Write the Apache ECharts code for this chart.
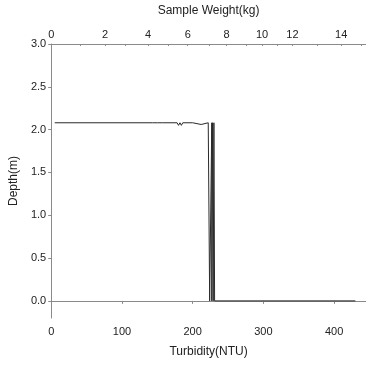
<!DOCTYPE html>
<html><head><meta charset="utf-8">
<script src="https://cdn.jsdelivr.net/npm/echarts@6/dist/echarts.min.js"></script>
<style>html,body{margin:0;padding:0;background:#fff}#c{width:366px;height:365px}</style>
</head><body><div id="c"></div>
<script>
// Profile data: turbidity (NTU) vs depth (m)
const turbidity = [5, 143, 144, 145, 150, 151, 152, 157, 158, 159, 178, 180, 182, 184, 186, 200, 202, 212, 214, 222, 224, 224, 226, 227, 227, 228, 228, 229, 229, 230, 230, 231, 231, 430];
const depth =     [2.08, 2.08, 2.07, 2.08, 2.08, 2.07, 2.08, 2.08, 2.07, 2.08, 2.08, 2.05, 2.08, 2.05, 2.08, 2.08, 2.06, 2.06, 2.08, 2.08, 2.08, 0, 0, 2.08, 0, 0, 2.08, 2.08, 0, 0, 2.08, 2.08, 0, 0];
// Bottom axis ticks
const turbTicks = [0, 100, 200, 300, 400];
// Depth axis ticks
const depthTicks = [0, 0.5, 1.0, 1.5, 2.0, 2.5, 3.0];
// Top axis: sample weight labels and their turbidity-equivalent positions
const weightLabels = ['0', '2', '4', '6', '8', '10', '12', '14'];
const weightAt =     [0, 76, 137, 193, 248, 298, 341, 410];
const weightMinorAt = [41, 104, 165, 224, 276, 320, 376, 438];

const chart = echarts.init(document.getElementById('c'), null, {renderer: 'canvas'});
const axisCol = '#8a8a8a';
const txtCol = '#222';
const FONT = 'Liberation Sans, Arial, sans-serif';
chart.setOption({
  animation: false,
  backgroundColor: '#fff',
  grid: {left: 51, right: -1, top: 40, bottom: 47, containLabel: false},
  xAxis: [{
    type: 'value', position: 'bottom', min: 0, max: 445,
    name: 'Turbidity(NTU)', nameLocation: 'middle', nameGap: 28,
    nameTextStyle: {color: txtCol, fontSize: 12, fontFamily: FONT},
    axisLine: {show: true, lineStyle: {color: axisCol, width: 1}},
    axisTick: {show: true, length: 3, customValues: turbTicks, lineStyle: {color: axisCol}},
    axisLabel: {customValues: turbTicks, color: txtCol, fontSize: 11, fontFamily: FONT, margin: 8},
    splitLine: {show: false}
  }, {
    type: 'value', position: 'top', min: 0, max: 445,
    name: 'Sample Weight(kg)', nameLocation: 'middle', nameGap: 27,
    nameTextStyle: {color: txtCol, fontSize: 12, fontFamily: FONT},
    axisLine: {show: true, lineStyle: {color: axisCol, width: 1}},
    axisTick: {show: true, length: 2, inside: true, customValues: weightAt.concat(weightMinorAt), lineStyle: {color: axisCol}},
    axisLabel: {
      customValues: weightAt, color: txtCol, fontSize: 11, fontFamily: FONT, margin: 4,
      formatter: function (v) { const i = weightAt.indexOf(v); return i >= 0 ? weightLabels[i] : ''; }
    },
    splitLine: {show: false}
  }],
  yAxis: {
    type: 'value', min: -0.2, max: 3.0,
    name: 'Depth(m)', nameLocation: 'middle', nameGap: 22, nameRotate: 90,
    nameTextStyle: {color: txtCol, fontSize: 12, fontFamily: FONT},
    axisLine: {show: true, onZero: false, lineStyle: {color: axisCol, width: 1}},
    axisTick: {show: true, length: 3, customValues: depthTicks, lineStyle: {color: axisCol}},
    axisLabel: {
      customValues: depthTicks, color: txtCol, fontSize: 11, fontFamily: FONT, margin: 5,
      formatter: function (v) { return v.toFixed(1); }
    },
    splitLine: {show: false}
  },
  series: [{
    type: 'line', xAxisIndex: 0, symbol: 'none',
    lineStyle: {color: '#2a2a2a', width: 1},
    data: turbidity.map(function (t, i) { return [t, depth[i]]; })
  }]
});
</script></body></html>
